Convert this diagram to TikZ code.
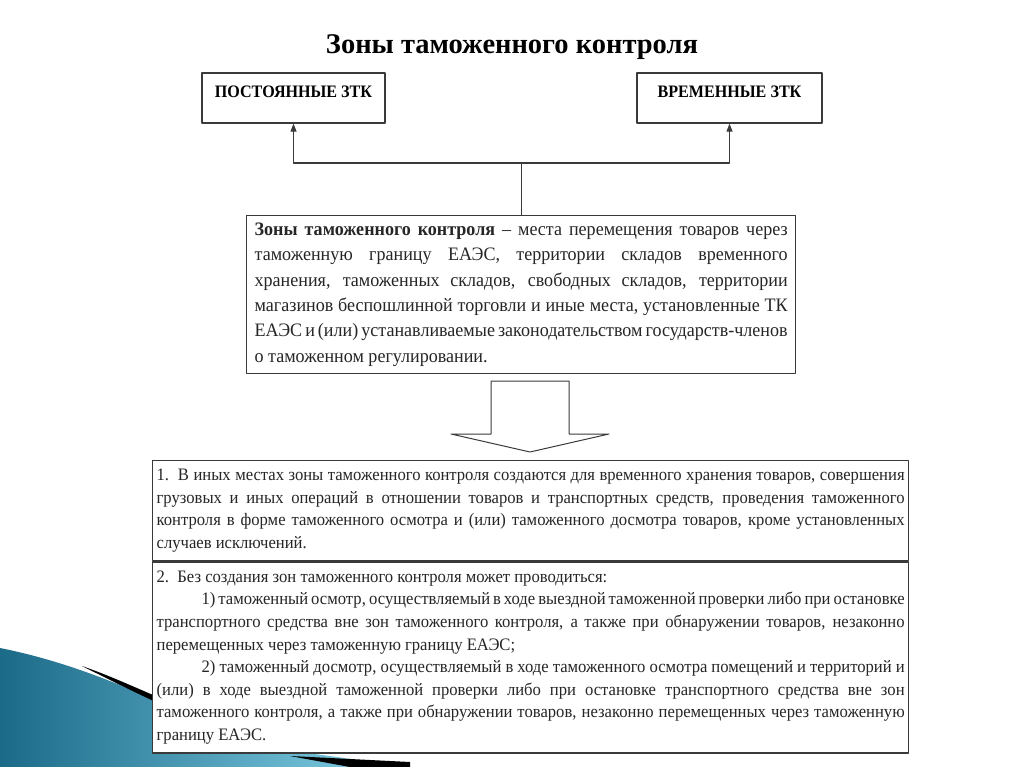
\documentclass[tikz,border=0pt]{standalone}
\usepackage{fontspec}
\setmainfont{Liberation Serif}
\newfontfamily\uzkij{Liberation Serif}[FakeStretch=0.92]
\newfontfamily\uzkijtekst{Liberation Serif}[FakeStretch=0.95]
\usetikzlibrary{arrows.meta}

\definecolor{ramka}{HTML}{3A3A3A}
\definecolor{volna}{HTML}{1B6A88}
\definecolor{volnasvet}{HTML}{86D4EA}

\tikzset{
  ramka/.style={draw=ramka, line width=1.3pt, fill=white},
  ztk/.style={ramka, inner xsep=0pt, inner ysep=0pt, text height=25pt, text depth=25pt,
    font=\uzkij\bfseries\fontsize{17.5}{20}\selectfont},
  tekst/.style={ramka, anchor=north west, align=justify, inner ysep=0pt,
    text=black!85},
  strelka/.style={draw=ramka, line width=1.1pt, -{Triangle[length=8pt, width=6pt]}}
}

\begin{document}
\begin{tikzpicture}[x=1pt, y=-1pt, line join=round]
  \useasboundingbox (0,0) rectangle (1024,767);
  \fill[white] (0,0) rectangle (1024,767);
  % волна внизу слева
  \shade[left color=volna, right color=volnasvet] (0,648) .. controls (60,660) and (110,680) .. (160,702)
    -- (160,752) -- (300,752) -- (410,767) -- (0,767) -- cycle;
  \fill[black] (82,666) .. controls (108,675) and (132,686) .. (160,698) -- (160,704)
    .. controls (132,691) and (108,679) .. cycle;
  \fill[black] (290,756) -- (410,762) -- (410,767) -- (350,767) -- cycle;
  % заголовок
  \node[anchor=base, font=\bfseries\fontsize{28.5}{34}\selectfont] (zagolovok) at (512,54)
    {Зоны таможенного контроля};
  % постоянные и временные ЗТК
  \node[ztk, minimum width=183pt] (postoyannye) at (293.5,98) {ПОСТОЯННЫЕ ЗТК};
  \node[ztk, minimum width=185pt] (vremennye) at (729.5,98) {ВРЕМЕННЫЕ ЗТК};
  % определение
  \node[tekst, text width=533pt, inner xsep=8pt, minimum height=158pt,
    font=\uzkijtekst\fontsize{19}{25.4}\selectfont] (zona) at (246,215)
    {\textbf{Зоны таможенного контроля} – места перемещения товаров через\linebreak
     таможенную границу ЕАЭС, территории складов временного\linebreak
     хранения, таможенных складов, свободных складов, территории\linebreak
     магазинов беспошлинной торговли и иные места, установленные ТК\linebreak
     ЕАЭС и (или) устанавливаемые законодательством государств-членов\linebreak
     о таможенном регулировании.};
  \coordinate (razvilka) at (zona.north |- 0,163);
  \draw[draw=ramka, line width=1.1pt] (zona.north) -- (razvilka);
  \draw[strelka] (razvilka) -| (postoyannye.south);
  \draw[strelka] (razvilka) -| (vremennye.south);
  % полая стрелка вниз
  \filldraw[fill=white, draw=ramka, line width=1pt] (491,381) -- (569,381) -- (569,434) -- (609,434)
    -- (530,452) -- (451,434) -- (491,434) -- cycle;
  % пункты 1 и 2
  \node[tekst, text width=748pt, inner xsep=4pt, minimum height=100pt,
    font=\uzkijtekst\fontsize{17.5}{22.6}\selectfont] (punkt1) at (152,460)
    {1.\ \ В иных местах зоны таможенного контроля создаются для временного хранения товаров, совершения\linebreak
     грузовых и иных операций в отношении товаров и транспортных средств, проведения таможенного\linebreak
     контроля в форме таможенного осмотра и (или) таможенного досмотра товаров, кроме установленных\linebreak
     случаев исключений.};
  \node[tekst, text width=748pt, inner xsep=4pt, minimum height=191pt,
    font=\uzkijtekst\fontsize{17.5}{22.6}\selectfont] (punkt2) at (punkt1.south west)
    {2.\ \ Без создания зон таможенного контроля может проводиться:\\
     \hspace*{45pt}1) таможенный осмотр, осуществляемый в ходе выездной таможенной проверки либо при остановке\linebreak
     транспортного средства вне зон таможенного контроля, а также при обнаружении товаров, незаконно\linebreak
     перемещенных через таможенную границу ЕАЭС;\\
     \hspace*{45pt}2) таможенный досмотр, осуществляемый в ходе таможенного осмотра помещений и территорий и\linebreak
     (или) в ходе выездной таможенной проверки либо при остановке транспортного средства вне зон\linebreak
     таможенного контроля, а также при обнаружении товаров, незаконно перемещенных через таможенную\linebreak
     границу ЕАЭС.};
\end{tikzpicture}
\end{document}
